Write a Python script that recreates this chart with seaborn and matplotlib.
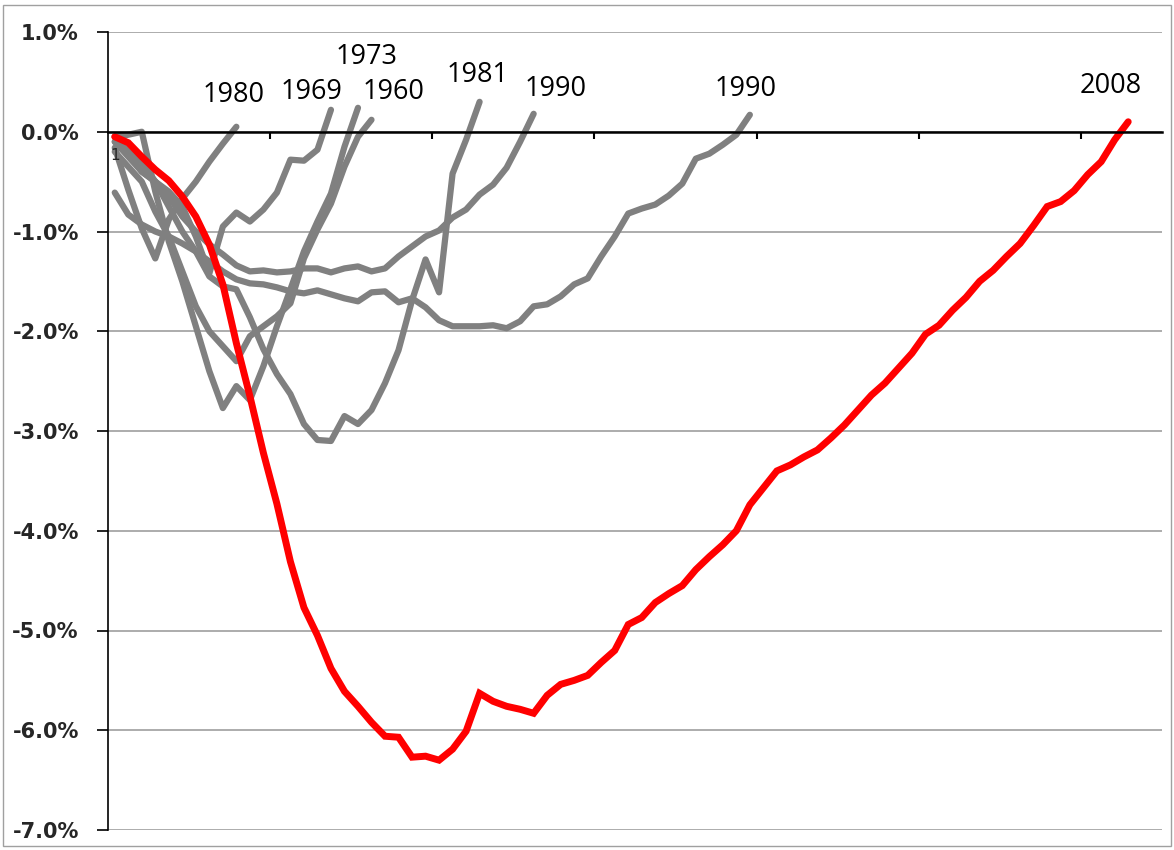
import numpy as np
import pandas as pd
import matplotlib
matplotlib.use("Agg")
import matplotlib.pyplot as plt
import seaborn as sns
from matplotlib.patches import Rectangle

# Percent job losses relative to the pre-recession peak, by month after peak
jobs_1980 = [-0.16, -0.58, -0.97, -1.27, -0.88, -0.67, -0.5, -0.3, -0.12, 0.05]
jobs_1969 = [-0.1, -0.25, -0.4, -0.5, -0.6, -0.75, -1.05, -1.42, -0.95, -0.81,
             -0.9, -0.78, -0.61, -0.28, -0.29, -0.18, 0.22]
jobs_1973 = [-0.05, -0.03, 0.0, -0.6, -1.1, -1.5, -1.95, -2.4, -2.77, -2.55,
             -2.69, -2.35, -1.95, -1.58, -1.2, -0.9, -0.62, -0.15, 0.24]
jobs_1960 = [-0.2, -0.35, -0.5, -0.8, -1.05, -1.4, -1.75, -2.0, -2.15, -2.3,
             -2.05, -1.95, -1.85, -1.72, -1.27, -0.98, -0.72, -0.35, -0.05, 0.12]
jobs_1981 = [-0.1, -0.2, -0.3, -0.5, -0.75, -1.0, -1.2, -1.45, -1.55, -1.58,
             -1.86, -2.18, -2.43, -2.63, -2.93, -3.09, -3.10, -2.85, -2.93, -2.79,
             -2.52, -2.19, -1.69, -1.28, -1.61, -0.42, -0.08, 0.30]
jobs_1990 = [-0.05, -0.2, -0.4, -0.5, -0.65, -0.85, -1.0, -1.13, -1.23, -1.34,
             -1.4, -1.39, -1.41, -1.4, -1.37, -1.37, -1.41, -1.37, -1.35, -1.4,
             -1.37, -1.25, -1.15, -1.05, -0.99, -0.86, -0.78, -0.63, -0.53, -0.36,
             -0.1, 0.18]
jobs_2001 = [-0.61, -0.83, -0.93, -1.0, -1.05, -1.12, -1.2, -1.3, -1.4, -1.48,
             -1.52, -1.53, -1.56, -1.6, -1.62, -1.59, -1.63, -1.67, -1.7, -1.61,
             -1.6, -1.71, -1.67, -1.76, -1.89, -1.95, -1.95, -1.95, -1.94, -1.97,
             -1.9, -1.75, -1.73, -1.65, -1.53, -1.47, -1.25, -1.05, -0.82, -0.77,
             -0.73, -0.64, -0.52, -0.27, -0.22, -0.13, -0.03, 0.17]
jobs_2008 = [-0.05, -0.11, -0.25, -0.38, -0.49, -0.65, -0.85, -1.13, -1.53, -2.12,
             -2.65, -3.22, -3.73, -4.31, -4.77, -5.05, -5.38, -5.61, -5.76, -5.92,
             -6.06, -6.07, -6.27, -6.26, -6.30, -6.19, -6.01, -5.63, -5.71, -5.76,
             -5.79, -5.83, -5.65, -5.54, -5.50, -5.45, -5.32, -5.20, -4.94, -4.87,
             -4.72, -4.63, -4.55, -4.39, -4.26, -4.14, -4.00, -3.74, -3.57, -3.40,
             -3.34, -3.26, -3.19, -3.07, -2.94, -2.79, -2.64, -2.52, -2.37, -2.22,
             -2.03, -1.94, -1.79, -1.66, -1.50, -1.39, -1.25, -1.12, -0.94, -0.75,
             -0.70, -0.59, -0.43, -0.30, -0.08, 0.10]

recessions = {"1980": jobs_1980, "1969": jobs_1969, "1973": jobs_1973,
              "1960": jobs_1960, "1981": jobs_1981, "1990": jobs_1990,
              "2001": jobs_2001, "2008": jobs_2008}

# end-of-line labels (text as printed on the chart)
label_text = ["1980", "1969", "1973", "1960", "1981", "1990", "1990", "2008"]
label_x = [9.79, 15.56, 19.6, 21.6, 27.88, 33.59, 47.67, 74.68]
label_y = [0.294, 0.328, 0.679, 0.328, 0.494, 0.361, 0.361, 0.388]

y_ticks = list(range(-7, 2))
n_months = 78

frames = []
for name, vals in recessions.items():
    frames.append(pd.DataFrame({"month": np.arange(1, len(vals) + 1),
                                "pct": vals, "recession": name}))
df = pd.concat(frames, ignore_index=True)

sns.set_theme(style="white")
plt.rcParams["font.family"] = ["DejaVu Sans"]

fig = plt.figure(figsize=(11.74, 8.5), dpi=100)
ax = fig.add_axes([108 / 1174, 1 - 830 / 850, (1162 - 108) / 1174, (830 - 32) / 850])

ax.yaxis.grid(True, color="#a6a6a6", lw=1.3)

gray = df[df["recession"] != "2008"]
sns.lineplot(data=gray, x="month", y="pct", units="recession", estimator=None,
             color="#808080", linewidth=4.5, sort=False, legend=False, ax=ax,
             solid_capstyle="round", solid_joinstyle="round")
sns.lineplot(data=df[df["recession"] == "2008"], x="month", y="pct",
             color="#ff0000", linewidth=5.0, sort=False, legend=False, ax=ax,
             solid_capstyle="round", solid_joinstyle="miter")

for t, x, y in zip(label_text, label_x, label_y):
    ax.text(x, y, t, ha="center", va="baseline", fontsize=19.5,
            family=["Open Sans", "DejaVu Sans"], color="black")

ax.set_xlim(0.5, n_months + 0.5)
ax.set_ylim(-7, 1)
ax.set_yticks(y_ticks)
ax.set_yticklabels([f"{v:.1f}%" for v in y_ticks], fontsize=15, fontweight="bold")
ax.tick_params(axis="y", direction="out", length=8, width=1.2, color="black",
               pad=13, left=True)

ax.set_xticks(np.arange(12.5, n_months, 12))
ax.set_xticklabels([])
ax.set_xticks([1], minor=True)
ax.set_xticklabels(["1"], minor=True, fontsize=9)
ax.tick_params(axis="x", which="major", direction="out", length=5, width=1.5,
               color="black", bottom=True)
ax.tick_params(axis="x", which="minor", length=0, pad=12, bottom=True,
               labelbottom=True)

ax.set_xlabel("")
ax.set_ylabel("")
for s in ["top", "right"]:
    ax.spines[s].set_visible(False)
ax.spines["bottom"].set_position(("data", 0))
ax.spines["bottom"].set_color("black")
ax.spines["bottom"].set_linewidth(1.8)
ax.spines["left"].set_color("black")
ax.spines["left"].set_linewidth(1.2)

# gridlines stay under the series, the "1" category label sits on top
ax.set_axisbelow(False)
ax.yaxis.set_zorder(0.5)
ax.xaxis.set_zorder(4)

fig.patches.append(Rectangle((3 / 1174, 4 / 850), 1168 / 1174, 841 / 850,
                             transform=fig.transFigure, fill=False,
                             ec="#a0a0a0", lw=1.0))

fig.savefig("out.png", dpi=100)
